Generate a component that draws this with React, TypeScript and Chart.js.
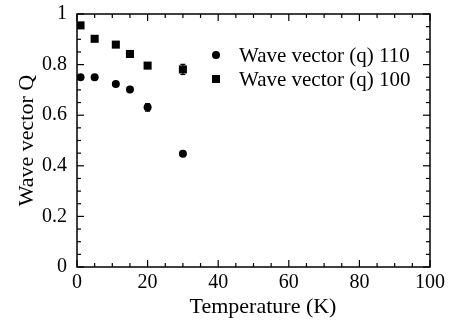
import React, { useEffect, useRef } from 'react';
import { Chart, registerables } from 'chart.js';

Chart.register(...registerables);

const temps110 = [1, 5, 11, 15, 20, 30];
const q110 = [0.75, 0.75, 0.723, 0.702, 0.631, 0.448];
const err110 = [0, 0, 0, 0, 0.015, 0];
const temps100 = [1, 5, 11, 15, 20, 30];
const q100 = [0.955, 0.902, 0.879, 0.842, 0.796, 0.781];
const err100 = [0, 0, 0, 0, 0, 0.02];
const seriesLabels = ['Wave vector (q) 110', 'Wave vector (q) 100'];
const errors = [err110, err100];
const xTitle = 'Temperature (K)';
const yTitle = 'Wave vector Q';

const FONT = "'Liberation Serif', 'Times New Roman', serif";

const framePlugin = {
  id: 'frame',
  afterDatasetsDraw(chart: any) {
    const { ctx, chartArea: a, scales } = chart;
    const x = scales.x;
    const y = scales.y;
    ctx.save();
    ctx.strokeStyle = '#000';
    ctx.fillStyle = '#000';
    ctx.lineWidth = 1.5;
    ctx.strokeRect(a.left, a.top, a.right - a.left, a.bottom - a.top);
    ctx.lineWidth = 1.2;
    const line = (x1: number, y1: number, x2: number, y2: number) => {
      ctx.beginPath();
      ctx.moveTo(x1, y1);
      ctx.lineTo(x2, y2);
      ctx.stroke();
    };
    for (let i = 0; i <= 20; i++) {
      const v = i * 5;
      const px = x.getPixelForValue(v);
      const len = i % 4 === 0 ? 7 : 4;
      line(px, a.bottom, px, a.bottom - len);
      line(px, a.top, px, a.top + len);
    }
    for (let i = 0; i <= 20; i++) {
      const v = i * 0.05;
      const py = y.getPixelForValue(v);
      const len = i % 4 === 0 ? 7 : 4;
      line(a.left, py, a.left + len, py);
      line(a.right, py, a.right - len, py);
    }
    // error bars
    chart.data.datasets.forEach((ds: any, di: number) => {
      ds.data.forEach((p: any, i: number) => {
        const e = errors[di][i];
        if (!e) return;
        const px = x.getPixelForValue(p.x);
        const y1 = y.getPixelForValue(p.y - e);
        const y2 = y.getPixelForValue(p.y + e);
        line(px, y1, px, y2);
        line(px - 2.5, y1, px + 2.5, y1);
        line(px - 2.5, y2, px + 2.5, y2);
      });
    });
    // legend
    ctx.font = `21px ${FONT}`;
    ctx.textBaseline = 'middle';
    ctx.textAlign = 'left';
    const lx = a.left + 139;
    const ly = a.top + 41;
    chart.data.datasets.forEach((ds: any, di: number) => {
      const cy = ly + di * 24;
      if (di === 0) {
        ctx.beginPath();
        ctx.arc(lx, cy, 4, 0, Math.PI * 2);
        ctx.fill();
      } else {
        ctx.fillRect(lx - 4, cy - 4, 8, 8);
      }
      ctx.fillText(ds.label, lx + 23, cy + 1);
    });
    // x axis title (slightly right of centre, as in the original)
    ctx.font = `22px ${FONT}`;
    ctx.textAlign = 'center';
    ctx.textBaseline = 'alphabetic';
    ctx.fillText(xTitle, (a.left + a.right) / 2 + 9.5, 313);
    ctx.restore();
  },
};

export default function App() {
  const ref = useRef<HTMLCanvasElement>(null);
  useEffect(() => {
    if (!ref.current) return;
    const chart = new Chart(ref.current, {
      type: 'scatter',
      data: {
        datasets: [
          {
            label: seriesLabels[0],
            data: temps110.map((t, i) => ({ x: t, y: q110[i] })),
            pointStyle: 'circle',
            pointRadius: 4,
            backgroundColor: '#000',
            borderColor: '#000',
            borderWidth: 0,
          },
          {
            label: seriesLabels[1],
            data: temps100.map((t, i) => ({ x: t, y: q100[i] })),
            pointStyle: 'rect',
            pointRadius: 5.7,
            backgroundColor: '#000',
            borderColor: '#000',
            borderWidth: 0,
          },
        ],
      },
      options: {
        responsive: false,
        animation: false,
        layout: { padding: { top: 14, right: 21, left: 0, bottom: 0 } },
        plugins: { legend: { display: false }, tooltip: { enabled: false } },
        scales: {
          x: {
            type: 'linear',
            min: 0,
            max: 100,
            grid: { display: false, drawTicks: false },
            border: { display: false },
            ticks: {
              stepSize: 20,
              color: '#000',
              font: { family: FONT, size: 20 },
              padding: 3.5,
              maxRotation: 0,
            },
            title: { display: false },
            afterFit: (s: any) => {
              s.height = 53;
              s.paddingLeft = 0;
              s.paddingRight = 0;
            },
          },
          y: {
            type: 'linear',
            min: 0,
            max: 1,
            grid: { display: false, drawTicks: false },
            border: { display: false },
            ticks: {
              stepSize: 0.2,
              color: '#000',
              font: { family: FONT, size: 20 },
              padding: 10,
              callback: (v: any) => String(Number(Number(v).toFixed(1))),
            },
            title: {
              display: true,
              text: yTitle,
              color: '#000',
              font: { family: FONT, size: 22 },
              padding: { top: 14, bottom: 0 },
            },
            afterFit: (s: any) => {
              s.width = 77;
              s.paddingTop = 0;
              s.paddingBottom = 0;
            },
          },
        },
      },
      plugins: [framePlugin],
    } as any);
    return () => chart.destroy();
  }, []);
  return (
    <div style={{ position: 'fixed', left: 0, top: 0, width: 451, height: 320, background: '#fff' }}>
      <canvas ref={ref} width={451} height={320} />
    </div>
  );
}
